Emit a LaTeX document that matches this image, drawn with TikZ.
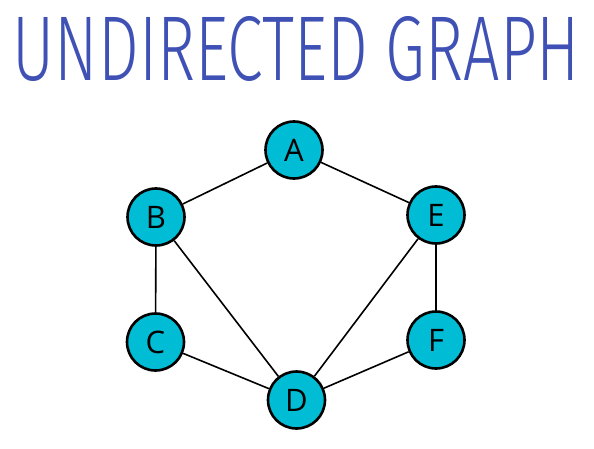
\documentclass[tikz,border=0pt]{standalone}
\usepackage{fontspec}
\setmainfont{Open Sans}
\newfontfamily\titlefont{Fira Sans Light}
\definecolor{titleblue}{HTML}{3F51B5}
\definecolor{nodecyan}{HTML}{00BCD4}

\begin{document}
\begin{tikzpicture}[x=1pt, y=1pt, vertex/.style={circle, draw, line width=2.6pt, fill=nodecyan, minimum size=57pt, inner sep=0pt, font=\fontsize{31}{31}\selectfont}]
  \useasboundingbox (0,0) rectangle (594,448);
  \node[inner sep=0pt, text=titleblue] (title) at (296.5,399) {\resizebox{567pt}{64pt}{\titlefont UNDIRECTED GRAPH}};
  \node[vertex] (A) at (294, 298) {A};
  \node[vertex] (B) at (156, 231) {B};
  \node[vertex] (C) at (155.5, 106) {C};
  \node[vertex] (D) at (296.5, 48) {D};
  \node[vertex] (E) at (436, 233) {E};
  \node[vertex] (F) at (436, 108) {F};
  \draw[line width=1.6pt] (A) -- (B);
  \draw[line width=1.6pt] (A) -- (E);
  \draw[line width=1.6pt] (B) -- (C);
  \draw[line width=1.6pt] (B) -- (D);
  \draw[line width=1.6pt] (C) -- (D);
  \draw[line width=1.6pt] (E) -- (D);
  \draw[line width=1.6pt] (E) -- (F);
  \draw[line width=1.6pt] (F) -- (D);
\end{tikzpicture}
\end{document}
